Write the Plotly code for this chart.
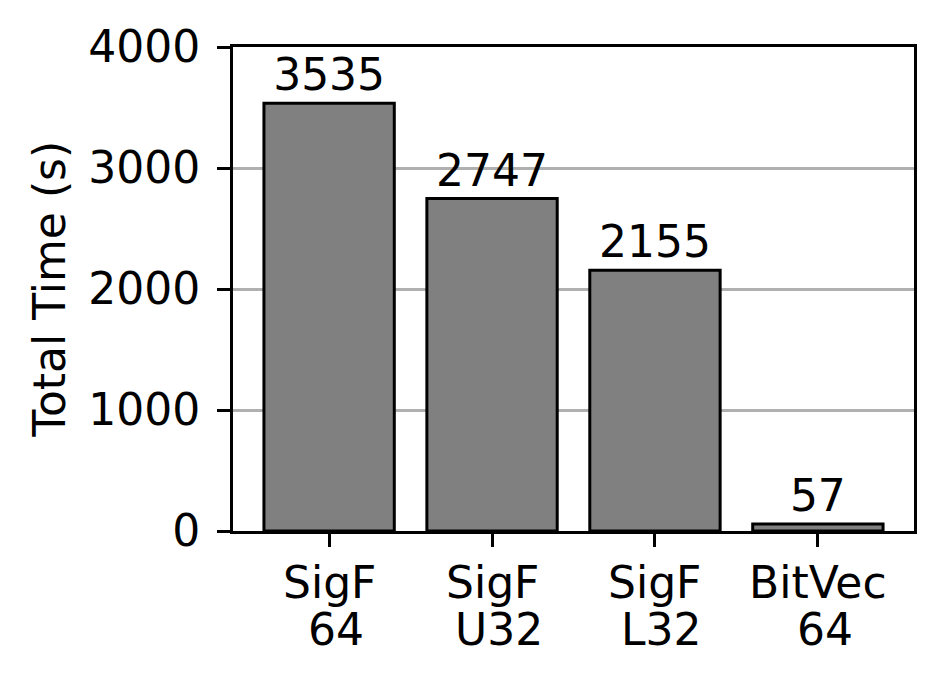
import plotly.graph_objects as go

categories = ["SigF\n 64", "SigF\n U32", "SigF\n L32", "BitVec\n 64"]
total_time = [3535, 2747, 2155, 57]
y_ticks = [0, 1000, 2000, 3000, 4000]
y_title = "Total Time (s)"

font = "DejaVu Sans, sans-serif"
x_pos = list(range(len(categories)))

fig = go.Figure(
    go.Bar(
        x=x_pos,
        y=total_time,
        width=0.8,
        marker=dict(color="#808080", line=dict(color="black", width=3)),
        text=[str(v) for v in total_time],
        textposition="outside",
        textfont=dict(family=font, size=44, color="black"),
        cliponaxis=False,
    )
)

# two-line category labels, drawn as annotations so the line spacing matches
for i, cat in enumerate(categories):
    first, second = cat.split("\n")
    for k, line in enumerate([first, second.replace(" ", "\u00a0")]):
        fig.add_annotation(
            x=i, xref="x", y=0, yref="paper",
            text=line, showarrow=False,
            yanchor="top", xanchor="center",
            yshift=-24 - 47 * k,
            font=dict(family=font, size=44, color="black"),
        )

# y title as an annotation, the axis title can't sit close enough
fig.add_annotation(
    x=0, xref="paper", y=0.5, yref="paper",
    text=y_title, textangle=-90, showarrow=False,
    xanchor="right", yanchor="middle", xshift=-157,
    font=dict(family=font, size=44, color="black"),
)

# the page adds an 8px body margin, so the figure is a bit smaller
fig.update_layout(
    width=938,
    height=677,
    margin=dict(l=225, r=32, t=39, b=154),
    plot_bgcolor="white",
    paper_bgcolor="white",
    font=dict(family=font, size=44, color="black"),
    showlegend=False,
)

fig.update_xaxes(
    tickvals=x_pos,
    showticklabels=False,
    range=[-0.59, 3.59],
    showline=True, linecolor="black", linewidth=3, mirror=True,
    ticks="outside", ticklen=13, tickwidth=3, tickcolor="black",
    showgrid=False, zeroline=False,
)
fig.update_yaxes(
    range=[0, 4000],
    tickvals=y_ticks,
    ticklabelstandoff=8,
    showline=True, linecolor="black", linewidth=3, mirror=True,
    ticks="outside", ticklen=13, tickwidth=3, tickcolor="black",
    showgrid=True, gridcolor="#b0b0b0", gridwidth=3,
    zeroline=False, automargin=False,
)

fig.write_html("out.html")
